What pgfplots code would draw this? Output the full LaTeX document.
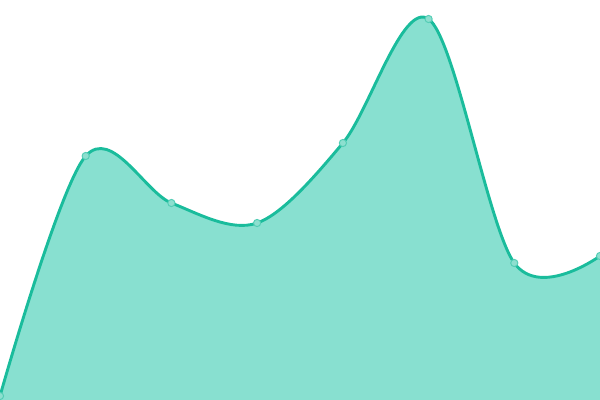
\documentclass[border=0pt]{standalone}
\usepackage{pgfplots}
\pgfplotsset{compat=1.18}
\definecolor{lineC}{HTML}{1ABC9C}
\definecolor{fillC}{HTML}{88E0D0}
\definecolor{markF}{HTML}{8DDFCF}
\begin{document}
\begin{tikzpicture}
\useasboundingbox (0,0) rectangle (6in,4in);
\begin{axis}[
  at={(0,0)}, anchor=south west,
  scale only axis, width=6in, height=4in,
  hide axis, xmin=0, xmax=600, ymin=0, ymax=400,
  clip=true, clip marker paths=true,
]
\addplot[fill=fillC, draw=none, smooth, tension=0.55] coordinates {
(0,4) (85.7,244) (171.4,197) (257.1,177) (342.9,257) (428.6,381) (514.3,137) (600,144)
} \closedcycle;
\addplot[draw=lineC, line width=2.1pt, smooth, tension=0.55,
  mark=*, mark size=2.6pt, mark options={fill=markF, draw=lineC!75!white, line width=0.7pt}] coordinates {
(0,4) (85.7,244) (171.4,197) (257.1,177) (342.9,257) (428.6,381) (514.3,137) (600,144)
};
\end{axis}
\end{tikzpicture}
\end{document}
